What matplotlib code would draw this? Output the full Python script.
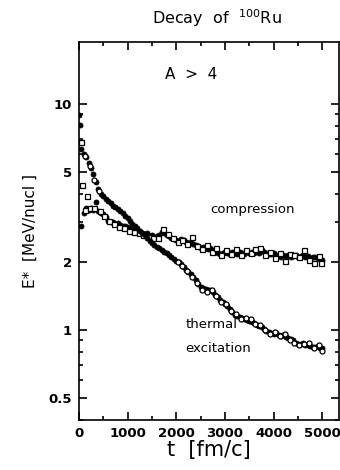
import matplotlib
matplotlib.use("Agg")
import matplotlib.pyplot as plt
from matplotlib.ticker import FixedLocator, NullFormatter, MultipleLocator

# thermal excitation, filled circles
t_th = [0, 20] + list(range(50, 5001, 50))
e_th = [8.9, 8.1,
        6.3, 6.0, 5.8, 5.5, 5.2, 4.9, 4.5, 4.2, 4.0, 3.9,
        3.8, 3.72, 3.65, 3.55, 3.5, 3.42, 3.35, 3.28, 3.2, 3.12,
        3.05, 2.95, 2.9, 2.82, 2.75, 2.7, 2.62, 2.55, 2.48, 2.42,
        2.38, 2.34, 2.3, 2.26, 2.22, 2.2, 2.15, 2.1, 2.07, 2.02,
        2.0, 1.96, 1.9, 1.85, 1.8, 1.77, 1.72, 1.66, 1.6, 1.55,
        1.53, 1.52, 1.5, 1.5, 1.47, 1.43, 1.4, 1.36, 1.33, 1.3,
        1.28, 1.24, 1.2, 1.17, 1.15, 1.14, 1.13, 1.12, 1.11, 1.1,
        1.09, 1.07, 1.05, 1.04, 1.03, 1.01, 0.99, 0.98, 0.97, 0.96,
        0.97, 0.95, 0.94, 0.95, 0.93, 0.92, 0.91, 0.9, 0.88, 0.87,
        0.87, 0.88, 0.86, 0.86, 0.85, 0.84, 0.84, 0.85, 0.83, 0.83]

# thermal excitation, open symbols
t_th_o = [120, 220, 320, 420, 2025, 2125, 2225, 2325, 2425, 2525, 2625, 2725,
          2825, 2925, 3025, 3125, 3225, 3325, 3425, 3525, 3625, 3725, 3825,
          3925, 4025, 4125, 4225, 4325, 4425, 4525, 4625, 4725, 4825, 4925, 4985]
e_th_o = [5.9, 5.3, 4.6, 4.1, 2.0, 1.92, 1.82, 1.72, 1.62, 1.5, 1.48, 1.5,
          1.42, 1.33, 1.3, 1.22, 1.18, 1.12, 1.13, 1.12, 1.06, 1.05, 1.0,
          0.96, 0.98, 0.94, 0.96, 0.9, 0.88, 0.86, 0.87, 0.88, 0.83, 0.86, 0.81]

# compression, filled circles
t_co = list(range(50, 5001, 50))
e_co = [2.9, 3.3, 3.45, 3.4, 3.45, 3.4, 3.7, 3.35, 3.3, 3.25,
        3.15, 3.05, 3.0, 3.0, 2.95, 2.97, 2.92, 2.9, 2.88, 2.87,
        2.8, 2.78, 2.8, 2.75, 2.72, 2.7, 2.65, 2.68, 2.6, 2.62,
        2.58, 2.6, 2.62, 2.72, 2.68, 2.62, 2.6, 2.55, 2.52, 2.5,
        2.48, 2.52, 2.5, 2.45, 2.42, 2.44, 2.4, 2.38, 2.35, 2.3,
        2.32, 2.3, 2.28, 2.3, 2.25, 2.22, 2.2, 2.18, 2.2, 2.22,
        2.2, 2.18, 2.22, 2.2, 2.18, 2.22, 2.2, 2.18, 2.24, 2.2,
        2.22, 2.2, 2.24, 2.2, 2.25, 2.22, 2.2, 2.18, 2.16, 2.2,
        2.15, 2.12, 2.1, 2.14, 2.12, 2.15, 2.1, 2.12, 2.14, 2.1,
        2.12, 2.15, 2.1, 2.12, 2.08, 2.1, 2.1, 2.08, 2.06, 2.05]

# compression, open squares
t_co_o = [40, 60, 120, 170, 230, 320, 425, 525, 625, 725, 825, 925, 1025,
          1125, 1225, 1325, 1425, 1525, 1625, 1725, 1825, 1925, 2025, 2125,
          2225, 2325, 2425, 2525, 2625, 2725, 2825, 2925, 3025, 3125, 3225,
          3325, 3425, 3525, 3625, 3725, 3825, 3925, 4025, 4125, 4225, 4325,
          4425, 4525, 4625, 4725, 4825, 4925, 4975]
e_co_o = [6.8, 4.4, 3.4, 3.9, 3.45, 3.45, 3.35, 3.2, 3.05, 2.95, 2.85, 2.82, 2.75,
          2.72, 2.7, 2.62, 2.58, 2.55, 2.55, 2.8, 2.65, 2.55, 2.45, 2.5,
          2.4, 2.58, 2.35, 2.28, 2.38, 2.22, 2.3, 2.15, 2.25, 2.18, 2.28,
          2.15, 2.25, 2.2, 2.28, 2.3, 2.15, 2.22, 2.08, 2.2, 2.02, 2.18,
          2.15, 2.1, 2.25, 2.05, 1.98, 2.12, 1.98]

yticks = [0.5, 1, 2, 5, 10]
ytick_labels = ["0.5", "1", "2", "5", "10"]

plt.rcParams['font.family'] = ['DejaVu Sans']

fig = plt.figure(figsize=(3.4, 4.7), dpi=100)
ax = fig.add_axes([0.232, 0.106, 0.765, 0.805])

ax.plot(t_co, e_co, 'o', color='black', markersize=3.6, markeredgewidth=0.6)
ax.plot(t_co_o, e_co_o, 's', color='black', markerfacecolor='white',
        markersize=3.6, markeredgewidth=0.9)
ax.plot(t_th, e_th, 'o', color='black', markersize=3.6, markeredgewidth=0.6)
ax.plot(t_th_o, e_th_o, 'o', color='black', markerfacecolor='white',
        markersize=3.6, markeredgewidth=0.9)

ax.set_yscale('log')
ax.set_xlim(0, 5340)
ax.set_ylim(0.4, 18.8)

ax.xaxis.set_major_locator(MultipleLocator(1000))
ax.xaxis.set_minor_locator(MultipleLocator(500))
ax.yaxis.set_major_locator(FixedLocator(yticks))
ax.set_yticklabels(ytick_labels)
ax.yaxis.set_minor_locator(FixedLocator([0.4, 0.6, 0.7, 0.8, 0.9, 3, 4, 6, 7, 8, 9]))
ax.yaxis.set_minor_formatter(NullFormatter())

ax.tick_params(which='both', direction='in', top=True, right=True, width=1.2)
ax.tick_params(which='major', length=6, labelsize=9.5, pad=5)
ax.tick_params(which='minor', length=3)
for lab in ax.get_xticklabels() + ax.get_yticklabels():
    lab.set_fontweight('bold')
for s in ax.spines.values():
    s.set_linewidth(1.2)

ax.set_xlabel('t  [fm/c]', fontsize=15, labelpad=0)
ax.set_ylabel('E*  [MeV/nucl ]', fontsize=11, labelpad=8)
ax.set_title('Decay  of  $^{100}$Ru', fontsize=11.5, pad=13, x=0.53)

ax.text(2300, 13.5, 'A  >  4', fontsize=11, ha='center', va='center')
ax.text(2700, 3.4, 'compression', fontsize=9.5, ha='left', va='center')
ax.text(2200, 1.06, 'thermal', fontsize=9.5, ha='left', va='center')
ax.text(2180, 0.83, 'excitation', fontsize=9.5, ha='left', va='center')

fig.savefig('out.png', dpi=100)
